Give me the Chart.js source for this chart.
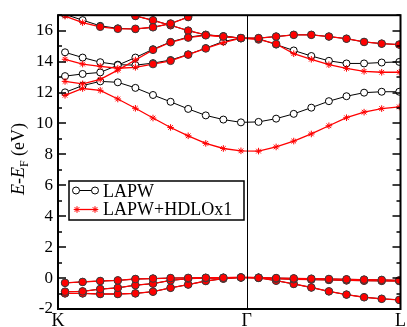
<!DOCTYPE html>
<html>
<head>
<meta charset="utf-8">
<script src="https://cdn.jsdelivr.net/npm/chart.js@4"></script>
<style>
  html, body { margin: 0; padding: 0; background: #fff; }
</style>
</head>
<body>
<canvas id="bandChart" width="407" height="327"></canvas>
<script>
// k-path: 20 k-points, K -> Gamma (11) and Gamma -> L (9)
const kLabels = ["K", "Γ", "L"];
const kTicks = [-0.4, 10.33, 19.07];
const yTicks = [-2, 0, 2, 4, 6, 8, 10, 12, 14, 16];

// LAPW bands (eV)
const lapwV1 = [-0.31, -0.25, -0.19, -0.15, -0.06, -0.03, 0.0, 0.01, 0.02, 0.02, 0.04, 0.02, 0.0, -0.02, -0.04, -0.06, -0.08, -0.1, -0.12, -0.15];
const lapwV2 = [-0.88, -0.86, -0.71, -0.63, -0.46, -0.36, -0.15, -0.04, 0.0, 0.02, 0.04, 0.02, -0.04, -0.08, -0.1, -0.12, -0.15, -0.17, -0.18, -0.19];
const lapwV3 = [-0.99, -0.99, -1.03, -1.03, -0.99, -0.88, -0.63, -0.42, -0.19, -0.04, 0.04, 0.02, -0.17, -0.38, -0.61, -0.86, -1.07, -1.24, -1.34, -1.41];
const lapwA = [12.01, 12.45, 12.72, 12.66, 12.3, 11.84, 11.4, 10.94, 10.52, 10.25, 10.07, 10.1, 10.31, 10.62, 11.02, 11.44, 11.76, 11.99, 12.05, 12.05];
const lapwB = [13.06, 13.2, 13.3, 13.77, 14.26, 14.8, 15.27, 15.58, 15.73, 15.65, 15.52, 15.52, 15.62, 15.73, 15.73, 15.62, 15.48, 15.27, 15.16, 15.1];
const lapwC = [14.6, 14.26, 13.96, 13.8, 13.77, 13.9, 14.1, 14.46, 14.87, 15.3, 15.52, 15.48, 15.1, 14.72, 14.36, 14.05, 13.88, 13.88, 13.94, 13.98];
const lapwT1 = [17.05, 16.68, 16.31, 16.15, 16.1, 16.22, 16.46, 16.88, 17.3, null, null, null, null, null, null, null, null, null, null, null];
const lapwT2 = [null, null, null, 17.4, 16.95, 16.67, 16.35, 16.0, 15.73, 15.62, 15.52, null, null, null, null, null, null, null, null, null];

// LAPW+HDLOx1 bands (eV)
const hdloV1 = [-0.31, -0.25, -0.19, -0.15, -0.06, -0.03, 0.0, 0.01, 0.02, 0.02, 0.04, 0.02, 0.0, -0.02, -0.04, -0.06, -0.08, -0.1, -0.12, -0.15];
const hdloV2 = [-0.88, -0.86, -0.71, -0.63, -0.46, -0.36, -0.15, -0.04, 0.0, 0.02, 0.04, 0.02, -0.04, -0.08, -0.1, -0.12, -0.15, -0.17, -0.18, -0.19];
const hdloV3 = [-0.99, -0.99, -1.03, -1.03, -0.99, -0.88, -0.63, -0.42, -0.19, -0.04, 0.04, 0.02, -0.17, -0.38, -0.61, -0.86, -1.07, -1.24, -1.34, -1.41];
const hdloA = [11.82, 12.26, 12.14, 11.58, 10.98, 10.35, 9.74, 9.2, 8.71, 8.38, 8.23, 8.21, 8.48, 8.86, 9.32, 9.85, 10.37, 10.73, 10.96, 11.07];
const hdloB = [12.72, 12.56, 12.85, 13.45, 14.1, 14.76, 15.25, 15.55, 15.7, 15.62, 15.52, 15.52, 15.62, 15.73, 15.73, 15.62, 15.48, 15.27, 15.16, 15.1];
const hdloC = [14.15, 13.84, 13.69, 13.57, 13.63, 13.84, 14.05, 14.45, 14.85, 15.22, 15.52, 15.43, 15.14, 14.51, 14.15, 13.8, 13.56, 13.37, 13.31, 13.31];
const hdloT1 = [16.94, 16.52, 16.25, 16.12, 16.12, 16.22, 16.46, 16.88, 17.3, null, null, null, null, null, null, null, null, null, null, null];
const hdloT2 = [null, null, null, 17.4, 16.95, 16.67, 16.35, 16.0, 15.73, 15.62, 15.52, null, null, null, null, null, null, null, null, null];

const lapwBands = [lapwV1, lapwV2, lapwV3, lapwA, lapwB, lapwC, lapwT1, lapwT2];
const hdloBands = [hdloV1, hdloV2, hdloV3, hdloA, hdloB, hdloC, hdloT1, hdloT2];

const SERIF = "'Liberation Serif', 'Times New Roman', serif";

function toPoints(band) {
  return band.map((e, i) => ({ x: i, y: e }));
}

// red marker sits on top of the black circle -> looks like a filled circle
function coincides(ctx) {
  if (ctx.dataIndex === undefined || !ctx.dataset.partner) return false;
  const other = ctx.dataset.partner[ctx.dataIndex];
  const own = ctx.dataset.source[ctx.dataIndex];
  return other != null && own != null && Math.abs(other - own) < 0.08;
}

const datasets = [];
lapwBands.forEach((band) => {
  datasets.push({
    label: "LAPW",
    data: toPoints(band),
    borderColor: "#000000",
    borderWidth: 1,
    pointStyle: "circle",
    pointRadius: 3.5,
    pointBackgroundColor: "#ffffff",
    pointBorderColor: "#000000",
    pointBorderWidth: 1,
    order: 2,
  });
});
hdloBands.forEach((band, b) => {
  datasets.push({
    label: "LAPW+HDLOx1",
    data: toPoints(band),
    source: band,
    partner: lapwBands[b],
    borderColor: "#ff0000",
    borderWidth: 1.3,
    pointStyle: (ctx) => (coincides(ctx) ? "circle" : "star"),
    pointRadius: (ctx) => (coincides(ctx) ? 3.8 : 3.3),
    pointBackgroundColor: "#ff0000",
    pointBorderColor: (ctx) => (coincides(ctx) ? "#3c3c3c" : "#ff0000"),
    pointBorderWidth: 1,
    order: 1,
  });
});

// frame, inward ticks, Gamma line, axis title and legend box
const decorations = {
  id: "decorations",
  afterDraw(chart) {
    const { ctx, chartArea: a, scales } = chart;
    const x = scales.x;
    const y = scales.y;
    ctx.save();

    // Gamma line
    const gx = Math.round(x.getPixelForValue(kTicks[1])) + 0.5;
    ctx.strokeStyle = "#000";
    ctx.lineWidth = 1;
    ctx.beginPath();
    ctx.moveTo(gx, a.top);
    ctx.lineTo(gx, a.bottom);
    ctx.stroke();

    // inward ticks on both sides
    ctx.lineWidth = 1.5;
    yTicks.forEach((v) => {
      [[v, 8], [v + 1, 4]].forEach(([val, len]) => {
        if (val > y.max) return;
        const py = Math.round(y.getPixelForValue(val));
        ctx.beginPath();
        ctx.moveTo(a.left, py);
        ctx.lineTo(a.left + len, py);
        ctx.moveTo(a.right, py);
        ctx.lineTo(a.right - len, py);
        ctx.stroke();
      });
    });

    // frame
    ctx.lineWidth = 2;
    ctx.strokeRect(a.left, a.top, a.right - a.left, a.bottom - a.top);

    // y axis title: E-E_F (eV)
    ctx.translate(18, 159);
    ctx.rotate(-Math.PI / 2);
    ctx.fillStyle = "#000";
    ctx.textBaseline = "alphabetic";
    const parts = [
      { t: "E", f: "italic 18px " + SERIF, dy: 0 },
      { t: "-", f: "18px " + SERIF, dy: 0 },
      { t: "E", f: "italic 18px " + SERIF, dy: 0 },
      { t: "F", f: "12px " + SERIF, dy: 4 },
      { t: " (eV)", f: "18px " + SERIF, dy: 0 },
    ];
    let total = 0;
    parts.forEach((p) => {
      ctx.font = p.f;
      p.w = ctx.measureText(p.t).width;
      total += p.w;
    });
    let cx = -total / 2;
    parts.forEach((p) => {
      ctx.font = p.f;
      ctx.fillText(p.t, cx, 6 + p.dy);
      cx += p.w;
    });
    ctx.setTransform(1, 0, 0, 1, 0, 0);

    // legend
    ctx.fillStyle = "#fff";
    ctx.fillRect(69, 181, 175, 39);
    ctx.strokeStyle = "#000";
    ctx.lineWidth = 1.5;
    ctx.strokeRect(69, 181, 175, 39);

    ctx.lineWidth = 1;
    ctx.beginPath();
    ctx.moveTo(76, 190.5);
    ctx.lineTo(95, 190.5);
    ctx.stroke();
    [76, 95].forEach((px) => {
      ctx.beginPath();
      ctx.arc(px, 190.5, 3.5, 0, Math.PI * 2);
      ctx.fillStyle = "#fff";
      ctx.fill();
      ctx.stroke();
    });

    ctx.strokeStyle = "#ff0000";
    ctx.lineWidth = 1.3;
    ctx.beginPath();
    ctx.moveTo(74, 209.5);
    ctx.lineTo(98, 209.5);
    ctx.stroke();
    ctx.lineWidth = 1;
    [77, 95].forEach((px) => {
      Chart.helpers.drawPoint(ctx, { pointStyle: "star", radius: 3.3, borderWidth: 1, rotation: 0 }, px, 209.5);
    });

    ctx.fillStyle = "#000";
    ctx.font = "18px " + SERIF;
    ctx.fillText("LAPW", 103, 197);
    ctx.fillText("LAPW+HDLOx1", 103, 215);

    ctx.restore();
  },
};

new Chart(document.getElementById("bandChart"), {
  type: "line",
  data: { datasets },
  plugins: [decorations],
  options: {
    responsive: false,
    animation: false,
    events: [],
    layout: { padding: { left: 0, right: 4, top: 8, bottom: 0 } },
    plugins: { legend: { display: false }, tooltip: { enabled: false } },
    elements: { line: { tension: 0 } },
    scales: {
      x: {
        type: "linear",
        min: kTicks[0],
        max: kTicks[2],
        afterBuildTicks: (s) => {
          s.ticks = kTicks.map((v) => ({ value: v }));
        },
        afterFit: (s) => {
          s.height = 18;
        },
        grid: { display: false, drawTicks: false },
        border: { display: false },
        ticks: {
          autoSkip: false,
          maxRotation: 0,
          padding: 1,
          color: "#000",
          font: { family: SERIF, size: 18 },
          callback: (v, i) => kLabels[i],
        },
      },
      y: {
        min: -2,
        max: 17,
        afterBuildTicks: (s) => {
          s.ticks = yTicks.map((v) => ({ value: v }));
        },
        afterFit: (s) => {
          s.width = 58;
        },
        grid: { display: false, drawTicks: false },
        border: { display: false },
        ticks: {
          padding: 5,
          color: "#000",
          font: { family: SERIF, size: 17 },
        },
      },
    },
  },
});
</script>
</body>
</html>
